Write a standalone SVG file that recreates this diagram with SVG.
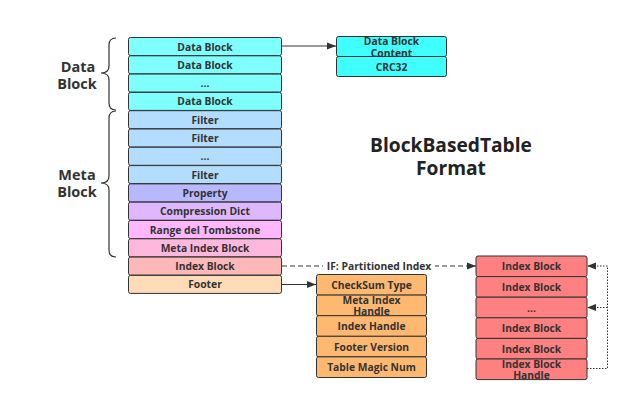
<svg xmlns="http://www.w3.org/2000/svg" width="632" height="403" viewBox="0 0 632 403">
<defs>
<style>
.b{stroke:#333;stroke-width:1;}
.t{font-family:"Open Sans","DejaVu Sans",sans-serif;font-weight:bold;font-size:10.3px;fill:#333;text-anchor:middle;dominant-baseline:central;}
.lbl{font-family:"Open Sans","DejaVu Sans",sans-serif;font-weight:bold;font-size:14.5px;fill:#333;text-anchor:middle;}
.title{font-family:"Open Sans","DejaVu Sans",sans-serif;font-weight:bold;font-size:19.2px;fill:#222;text-anchor:middle;}
.ln{fill:none;stroke:#333;stroke-width:1;}
.brace{fill:none;stroke:#333;stroke-width:1.2;}
</style>
<marker id="ah" viewBox="0 0 10 10" refX="10" refY="5" markerWidth="9" markerHeight="9" markerUnits="userSpaceOnUse" orient="auto">
<path d="M0,1 L10,5 L0,9 Z" fill="#333"/>
</marker>
</defs>
<rect width="632" height="403" fill="#fff"/>

<g id="labels">
<text class="lbl" x="78" y="72">Data</text>
<text class="lbl" x="77" y="89">Block</text>
<text class="lbl" x="77" y="180">Meta</text>
<text class="lbl" x="77" y="197">Block</text>
<text class="title" x="451" y="152">BlockBasedTable</text>
<text class="title" x="451" y="175">Format</text>
</g>

<g id="braces">
<path class="brace" d="M116,38 Q109,38 109,45 L109,66 Q109,73 101,73 Q109,73 109,80 L109,103 Q109,110 116,110"/>
<path class="brace" d="M116,111 Q109,111 109,118 L109,176 Q109,183 101,183 Q109,183 109,190 L109,250 Q109,257 116,257"/>
</g>

<g id="table">
<g id="n-db1"><rect class="b" x="128.5" y="37.5" width="153" height="18" rx="2" fill="#80ffff"/><text class="t" x="205" y="46.5">Data Block</text></g>
<g id="n-db2"><rect class="b" x="128.5" y="55.8" width="153" height="18" rx="2" fill="#80ffff"/><text class="t" x="205" y="64.8">Data Block</text></g>
<g id="n-db3"><rect class="b" x="128.5" y="74.1" width="153" height="18" rx="2" fill="#80ffff"/><text class="t" x="205" y="83.1">...</text></g>
<g id="n-db4"><rect class="b" x="128.5" y="92.4" width="153" height="18" rx="2" fill="#80ffff"/><text class="t" x="205" y="101.4">Data Block</text></g>
<g id="n-f1"><rect class="b" x="128.5" y="110.7" width="153" height="18" rx="2" fill="#b3ddff"/><text class="t" x="205" y="119.7">Filter</text></g>
<g id="n-f2"><rect class="b" x="128.5" y="129" width="153" height="18" rx="2" fill="#b3ddff"/><text class="t" x="205" y="138">Filter</text></g>
<g id="n-f3"><rect class="b" x="128.5" y="147.3" width="153" height="18" rx="2" fill="#b3ddff"/><text class="t" x="205" y="156.3">...</text></g>
<g id="n-f4"><rect class="b" x="128.5" y="165.6" width="153" height="18" rx="2" fill="#b3ddff"/><text class="t" x="205" y="174.6">Filter</text></g>
<g id="n-prop"><rect class="b" x="128.5" y="183.9" width="153" height="18" rx="2" fill="#b8b8ff"/><text class="t" x="205" y="192.9">Property</text></g>
<g id="n-comp"><rect class="b" x="128.5" y="202.2" width="153" height="18" rx="2" fill="#ddb8ff"/><text class="t" x="205" y="211.2">Compression Dict</text></g>
<g id="n-range"><rect class="b" x="128.5" y="220.5" width="153" height="18" rx="2" fill="#ffb8ff"/><text class="t" x="205" y="229.5">Range del Tombstone</text></g>
<g id="n-metaidx"><rect class="b" x="128.5" y="238.8" width="153" height="18" rx="2" fill="#ffb8dd"/><text class="t" x="205" y="247.8">Meta Index Block</text></g>
<g id="n-idx"><rect class="b" x="128.5" y="257.1" width="153" height="18" rx="2" fill="#ffb8b8"/><text class="t" x="205" y="266.1">Index Block</text></g>
<g id="n-footer"><rect class="b" x="128.5" y="275.4" width="153" height="18" rx="2" fill="#ffdbb8"/><text class="t" x="205" y="284.4">Footer</text></g>
</g>

<g id="content">
<g id="n-dbc"><rect class="b" x="336.5" y="36.5" width="110" height="20" rx="2" fill="#40ffff"/><text class="t" x="391.5" y="41">Data Block</text><text class="t" x="391.5" y="53">Content</text></g>
<g id="n-crc"><rect class="b" x="336.5" y="56.5" width="110" height="20" rx="2" fill="#40ffff"/><text class="t" x="391.5" y="66.5">CRC32</text></g>
</g>

<g id="footer-fields">
<g id="n-cs"><rect class="b" x="316.5" y="274.5" width="110" height="20.6" rx="2" fill="#ffb870"/><text class="t" x="371.5" y="284.8">CheckSum Type</text></g>
<g id="n-mih"><rect class="b" x="316.5" y="295.1" width="110" height="20.6" rx="2" fill="#ffb870"/><text class="t" x="371.5" y="300">Meta Index</text><text class="t" x="371.5" y="311">Handle</text></g>
<g id="n-ih"><rect class="b" x="316.5" y="315.7" width="110" height="20.6" rx="2" fill="#ffb870"/><text class="t" x="371.5" y="326">Index Handle</text></g>
<g id="n-fv"><rect class="b" x="316.5" y="336.3" width="110" height="20.6" rx="2" fill="#ffb870"/><text class="t" x="371.5" y="346.6">Footer Version</text></g>
<g id="n-tmn"><rect class="b" x="316.5" y="356.9" width="110" height="20.6" rx="2" fill="#ffb870"/><text class="t" x="371.5" y="367.2">Table Magic Num</text></g>
</g>

<g id="index-blocks">
<g id="n-ib1"><rect class="b" x="476" y="256" width="111" height="20.6" rx="2" fill="#ff8080"/><text class="t" x="531.5" y="266.3">Index Block</text></g>
<g id="n-ib2"><rect class="b" x="476" y="276.6" width="111" height="20.6" rx="2" fill="#ff8080"/><text class="t" x="531.5" y="286.9">Index Block</text></g>
<g id="n-ib3"><rect class="b" x="476" y="297.2" width="111" height="20.6" rx="2" fill="#ff8080"/><text class="t" x="531.5" y="307.5">...</text></g>
<g id="n-ib4"><rect class="b" x="476" y="317.8" width="111" height="20.6" rx="2" fill="#ff8080"/><text class="t" x="531.5" y="328.1">Index Block</text></g>
<g id="n-ib5"><rect class="b" x="476" y="338.4" width="111" height="20.6" rx="2" fill="#ff8080"/><text class="t" x="531.5" y="348.7">Index Block</text></g>
<g id="n-ibh"><rect class="b" x="476" y="359" width="111" height="20.6" rx="2" fill="#ff8080"/><text class="t" x="531.5" y="363.5">Index Block</text><text class="t" x="531.5" y="375">Handle</text></g>
</g>

<g id="connectors">
<path class="ln" d="M282,46 L336,46" marker-end="url(#ah)"/>
<path class="ln" d="M282,284.5 L316,284.5" marker-end="url(#ah)"/>
<path class="ln" d="M282,266 L476,266" stroke-dasharray="5,3" marker-end="url(#ah)"/>
<rect x="323" y="259" width="112" height="13" fill="#fff"/>
<text class="t" x="379" y="266">IF: Partitioned Index</text>
<path class="ln" d="M587,368.5 L607.5,368.5 L607.5,266 L587,266" stroke-dasharray="1.5,1.5" marker-end="url(#ah)"/>
<path class="ln" d="M607.5,307.5 L587,307.5" stroke-dasharray="1.5,1.5" marker-end="url(#ah)"/>
</g>
</svg>
